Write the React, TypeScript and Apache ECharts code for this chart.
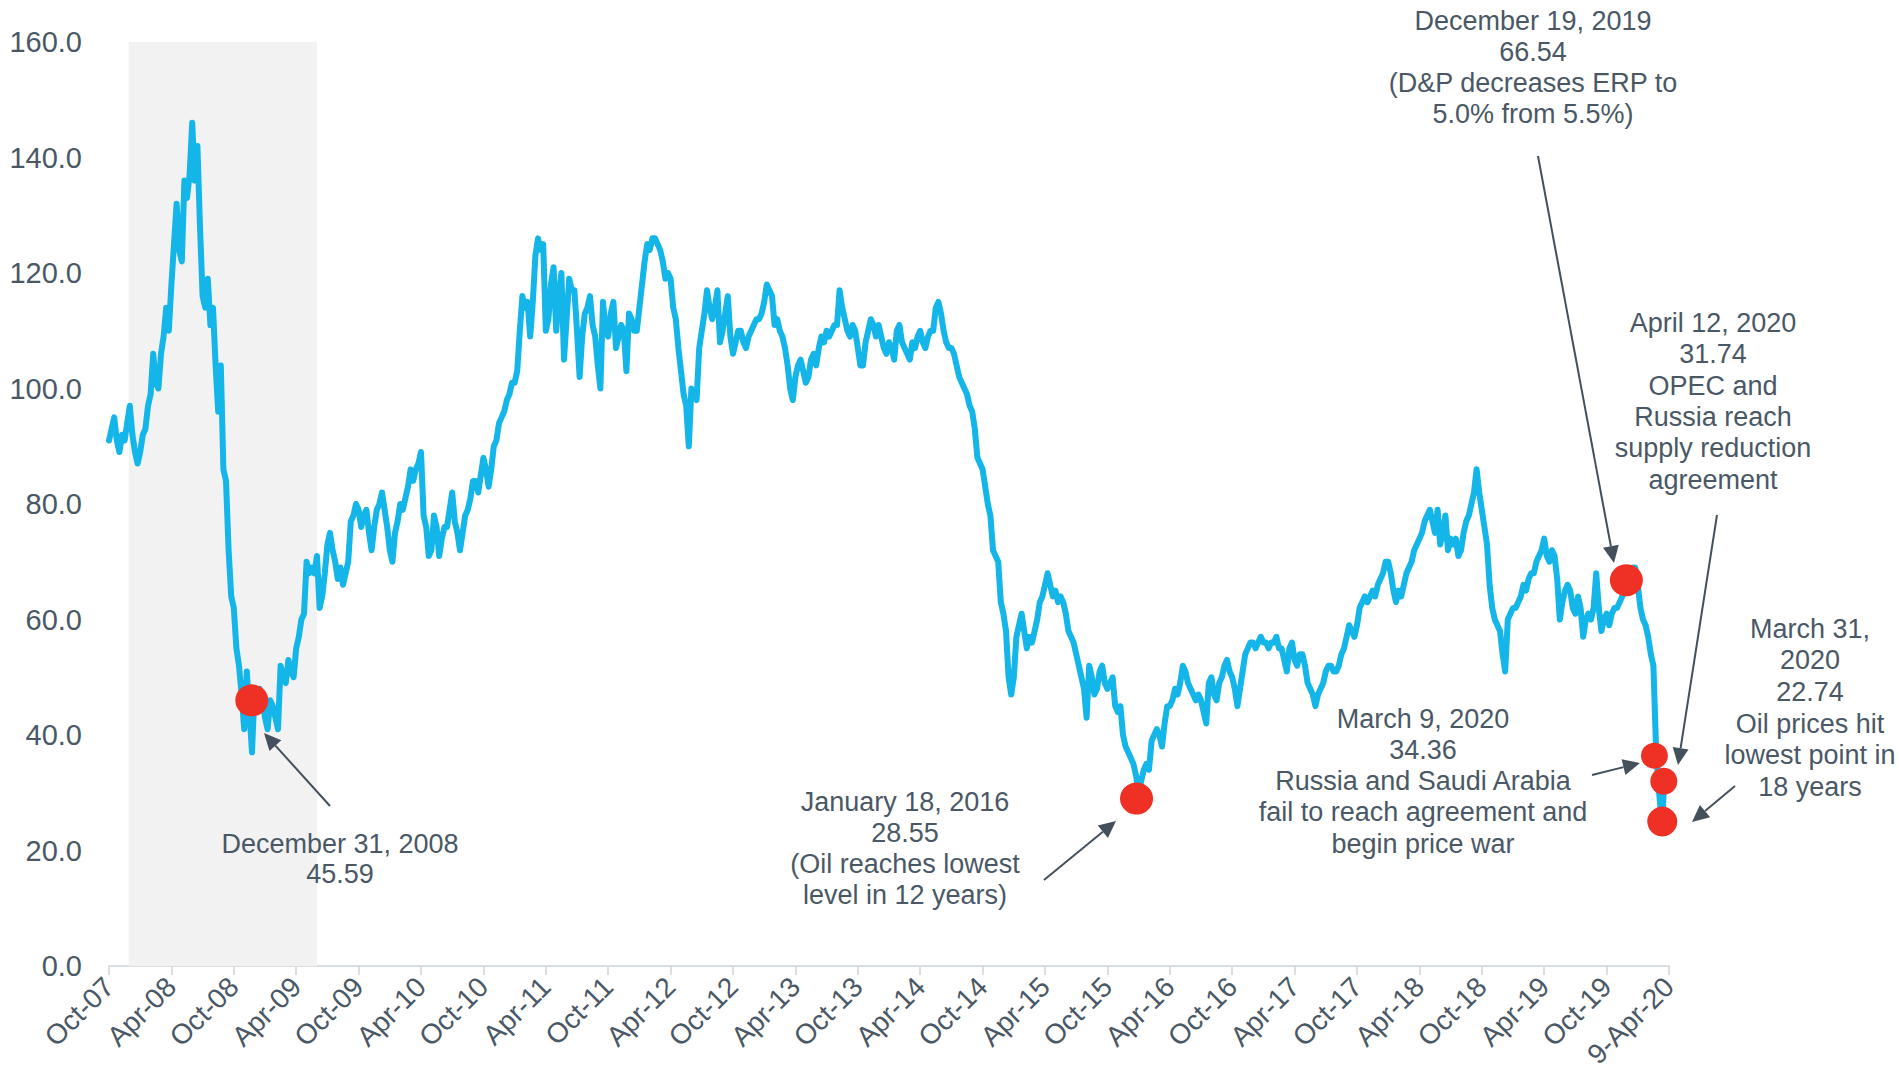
import React, { useEffect, useRef } from "react";
import * as echarts from "echarts";

// ---------- data ----------
const xTickLabels = [
  "Oct-07", "Apr-08", "Oct-08", "Apr-09", "Oct-09", "Apr-10", "Oct-10", "Apr-11",
  "Oct-11", "Apr-12", "Oct-12", "Apr-13", "Oct-13", "Apr-14", "Oct-14", "Apr-15",
  "Oct-15", "Apr-16", "Oct-16", "Apr-17", "Oct-17", "Apr-18", "Oct-18", "Apr-19",
  "Oct-19", "9-Apr-20",
];

// weekly (quarter-month) samples, months counted from 9-Oct-07
const STEP_MONTHS = 0.25;
const pricesOct07 = [
  91, 93, 95, 91, 89, 92, 91, 94, 97, 92, 89, 87,
  89, 92, 93, 97, 99, 106, 101, 100, 106, 109, 114, 110,
  118, 125, 132, 124, 122, 136, 133, 137, 146, 136, 142, 128,
  116, 114, 119, 111, 114, 104, 96, 104, 86, 84, 72, 64,
];
const pricesOct08 = [
  62, 55, 52, 47, 41, 51, 44, 37, 48, 44, 48, 46,
  43, 41, 46, 45, 43, 41, 52, 50, 49, 53, 51, 50,
  55, 57, 60, 61, 70, 68, 69, 68, 71, 62, 64, 68,
  73, 75, 72, 70, 67, 69, 66, 68, 70, 77, 78, 80,
];
const pricesOct09 = [
  79, 76, 78, 79, 75, 72, 76, 79, 80, 82, 79, 76,
  72, 70, 75, 77, 80, 79, 81, 83, 86, 84, 86, 87,
  89, 78, 76, 71, 72, 78, 76, 71, 74, 76, 76, 79,
  82, 77, 75, 72, 75, 78, 79, 81, 84, 84, 82, 85,
];
const pricesOct10 = [
  88, 86, 83, 86, 90, 91, 94, 95, 96, 98, 99, 101,
  101, 103, 110, 116, 114, 115, 109, 115, 123, 126, 124, 125,
  110, 112, 118, 121, 110, 116, 120, 105, 112, 119, 117, 117,
  110, 102, 109, 113, 114, 116, 111, 109, 104, 100, 115, 110,
];
const pricesOct11 = [
  109, 113, 115, 107, 109, 111, 110, 103, 113, 112, 110, 110,
  114, 118, 122, 125, 124, 126, 126, 125, 124, 122, 119, 120,
  119, 114, 112, 107, 103, 99, 97, 90, 100, 99, 98, 107,
  110, 113, 117, 114, 112, 114, 117, 108, 110, 113, 116, 109,
];
const pricesOct12 = [
  106, 108, 110, 110, 108, 107, 109, 110, 111, 112, 112, 113,
  115, 118, 117, 116, 111, 112, 110, 109, 107, 104, 100, 98,
  102, 104, 105, 103, 101, 102, 105, 106, 104, 107, 109, 108,
  110, 109, 110, 111, 111, 117, 114, 112, 110, 109, 111, 110,
];
const pricesOct13 = [
  107, 104, 104, 108, 110, 112, 111, 109, 111, 109, 107, 106,
  108, 107, 105, 110, 111, 108, 107, 106, 105, 108, 107, 109,
  110, 108, 107, 109, 110, 110, 114, 115, 113, 110, 108, 107,
  107, 106, 104, 102, 101, 100, 99, 97, 96, 93, 88, 87,
];
const pricesOct14 = [
  86, 83, 80, 78, 72, 71, 70, 63, 61, 58, 50, 47,
  50, 57, 59, 61, 58, 55, 57, 56, 58, 60, 63, 64,
  66, 68, 66, 64, 65, 63, 64, 63, 61, 58, 57, 56,
  54, 52, 50, 48, 43, 52, 50, 47, 48, 51, 52, 49,
];
const pricesOct15 = [
  48, 49, 50, 45, 44, 45, 40, 38, 37, 36, 35, 33,
  30, 32, 34, 35, 34, 39, 40, 41, 40, 38, 42, 45,
  45, 46, 48, 47, 49, 52, 51, 49, 48, 47, 46, 47,
  46, 44, 42, 49, 50, 47, 46, 49, 50, 52, 53, 51,
];
const pricesOct16 = [
  50, 48, 45, 48, 51, 54, 55, 56, 56, 55, 56, 57,
  56, 56, 55, 56, 56, 57, 55, 55, 53, 51, 55, 56,
  53, 52, 54, 54, 52, 49, 48, 47, 45, 47, 48, 49,
  51, 52, 52, 51, 51, 52, 54, 55, 57, 59, 58, 57,
];
const pricesOct17 = [
  59, 62, 63, 64, 63, 64, 65, 64, 66, 67, 68, 70,
  70, 68, 65, 63, 65, 64, 66, 68, 69, 70, 72, 73,
  74, 75, 77, 78, 79, 77, 75, 79, 73, 75, 78, 72,
  74, 73, 74, 71, 72, 75, 77, 78, 80, 82, 86, 82,
];
const pricesOct18 = [
  79, 76, 73, 66, 62, 60, 59, 58, 54, 51, 60, 61,
  62, 62, 63, 64, 66, 65, 67, 68, 68, 70, 71, 72,
  74, 71, 70, 72, 71, 67, 60, 63, 65, 66, 65, 62,
  61, 64, 62, 57, 60, 61, 60, 62, 68, 62, 58, 60,
];
const pricesOct19 = [
  61, 59, 61, 62, 62, 63, 64, 65, 67, 68, 69, 69,
  66, 62, 60, 59, 57, 54, 52, 38, 31, 26,
];
// last days (month offset, price)
const tailMonths = [149.35, 149.5];
const tailPrices = [24, 31];

// NBER recession shading (months from Oct-07)
const recessionStart = 1.9;
const recessionEnd = 20.0;

// highlighted events: month offset, price, marker size [w, h]
const eventMonths = [13.73, 98.8, 145.9, 148.6, 149.5, 149.35];
const eventPrices = [46, 29, 66.8, 36.4, 32, 25];
const eventSizes = [[33, 32], [33, 32], [33, 32], [27, 26], [27, 27], [30, 30]];

// ---------- style ----------
const TEXT = "#4A5866";
const FONT = "'Liberation Sans', Arial, Helvetica, sans-serif";
const LINE_BLUE = "#14B5E9";
const RED = "#EE3124";
const ARROW = "#44505C";

function arrow(x1: number, y1: number, x2: number, y2: number) {
  const dx = x2 - x1, dy = y2 - y1;
  const len = Math.sqrt(dx * dx + dy * dy);
  const ux = dx / len, uy = dy / len;
  const hl = 17, hw = 8;
  const bx = x2 - ux * hl, by = y2 - uy * hl;
  const px = -uy, py = ux;
  return {
    type: "group",
    silent: true,
    z: 100,
    children: [
      { type: "line", z: 100, shape: { x1, y1, x2: bx, y2: by }, style: { stroke: ARROW, lineWidth: 2 } },
      {
        type: "polygon",
        z: 100,
        shape: { points: [[x2, y2], [bx + px * hw, by + py * hw], [bx - px * hw, by - py * hw]] },
        style: { fill: ARROW },
      },
    ],
  };
}

function note(x: number, top: number, lh: number, text: string, size = 27) {
  return {
    type: "text",
    silent: true,
    z: 100,
    x,
    y: top,
    style: {
      text,
      fill: TEXT,
      font: `${size}px ${FONT}`,
      fontSize: size,
      fontFamily: FONT,
      lineHeight: lh,
      align: "center",
      verticalAlign: "top",
    },
  };
}

export default function App() {
  const ref = useRef<HTMLDivElement>(null);
  useEffect(() => {
    if (!ref.current) return;
    const chart = echarts.init(ref.current, null, { renderer: "svg" });
    const allPrices = [
      ...pricesOct07, ...pricesOct08, ...pricesOct09, ...pricesOct10, ...pricesOct11, ...pricesOct12,
      ...pricesOct13, ...pricesOct14, ...pricesOct15, ...pricesOct16, ...pricesOct17, ...pricesOct18, ...pricesOct19,
    ];
    const lineData = allPrices
      .map((v, i) => [i * STEP_MONTHS, v])
      .concat(tailMonths.map((m, i) => [m, tailPrices[i]]));

    const option: any = {
      animation: false,
      backgroundColor: "#FFFFFF",
      grid: {
        left: 109,
        right: 230,
        top: 42,
        bottom: 108,
        containLabel: false,
        outerBoundsMode: "none",
      },
      xAxis: {
        type: "value",
        min: 0,
        max: 150,
        interval: 6,
        axisLine: { show: true, lineStyle: { color: "#D9DEE3", width: 2 } },
        axisTick: { show: true, length: 9, lineStyle: { color: "#D9DEE3", width: 2 } },
        splitLine: { show: false },
        axisLabel: {
          rotate: 45,
          margin: 16,
          fontSize: 28,
          fontFamily: FONT,
          color: TEXT,
          formatter: (v: number) => xTickLabels[Math.round(v / 6)] ?? "",
        },
      },
      yAxis: {
        type: "value",
        min: 0,
        max: 160,
        interval: 20,
        axisLine: { show: false },
        axisTick: { show: false },
        splitLine: { show: false },
        axisLabel: {
          margin: 27,
          fontSize: 29,
          fontFamily: FONT,
          color: TEXT,
          formatter: (v: number) => v.toFixed(1),
        },
      },
      series: [
        {
          type: "line",
          data: lineData,
          symbol: "none",
          showSymbol: false,
          clip: false,
          z: 3,
          lineStyle: { color: LINE_BLUE, width: 6, cap: "round", join: "round" },
          markArea: {
            silent: true,
            z: 1,
            itemStyle: { color: "#F2F2F2" },
            data: [[{ xAxis: recessionStart }, { xAxis: recessionEnd }]],
          },
        },
        {
          type: "scatter",
          z: 5,
          data: eventMonths.map((m, i) => ({ value: [m, eventPrices[i]], symbolSize: eventSizes[i] })),
          itemStyle: { color: RED, opacity: 1 },
        },
      ],
      graphic: {
        elements: [
          note(340, 829, 30, "December 31, 2008\n45.59"),
          note(905, 786, 31, "January 18, 2016\n28.55\n(Oil reaches lowest\nlevel in 12 years)"),
          note(1533, 5, 31, "December 19, 2019\n66.54\n(D&P decreases ERP to\n5.0% from 5.5%)"),
          note(1713, 307, 31.4, "April 12, 2020\n31.74\nOPEC and\nRussia reach\nsupply reduction\nagreement"),
          note(1423, 703, 31.25, "March 9, 2020\n34.36\nRussia and Saudi Arabia\nfail to reach agreement and\nbegin price war"),
          note(1810, 613, 31.6, "March 31,\n2020\n22.74\nOil prices hit\nlowest point in\n18 years"),
          arrow(330, 806, 264, 733),
          arrow(1044, 880, 1116, 821),
          arrow(1538, 156, 1614, 563),
          arrow(1717, 515, 1678, 765),
          arrow(1592, 775, 1640, 763),
          arrow(1735, 786, 1692, 822),
        ],
      },
    };
    chart.setOption(option);
    return () => chart.dispose();
  }, []);
  return (
    <div
      ref={ref}
      style={{ position: "fixed", left: 0, top: 0, width: 1899, height: 1074, background: "#FFFFFF" }}
    />
  );
}
